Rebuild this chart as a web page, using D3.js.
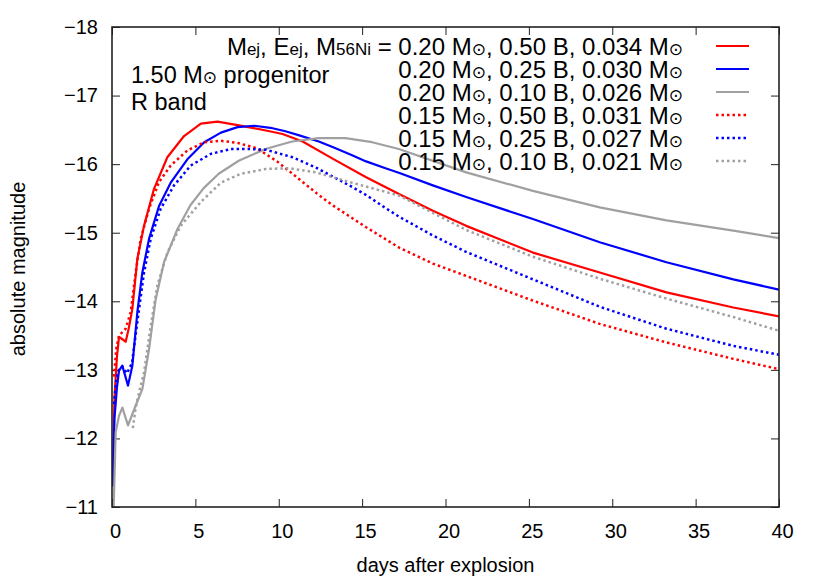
<!DOCTYPE html>
<html>
<head>
<meta charset="utf-8">
<script src="https://cdn.jsdelivr.net/npm/d3@7"></script>
<style>
  body { margin: 0; background: #fff; }
  svg { display: block; }
  text { font-family: "Liberation Sans", Arial, Helvetica, sans-serif; fill: #000; }
</style>
</head>
<body>
<svg id="chart" width="830" height="581"></svg>
<script>
// ---------- data (day, absolute magnitude) ----------
const xTicks = [0, 5, 10, 15, 20, 25, 30, 35, 40];
const yTicks = [-18, -17, -16, -15, -14, -13, -12, -11];

const m020_e050 = [[0.05,-11.5],[0.15,-12.6],[0.3,-13.2],[0.42,-13.48],[0.6,-13.45],[0.82,-13.41],[1.0,-13.6],[1.22,-13.89],[1.52,-14.62],[1.92,-15.10],[2.52,-15.64],[3.32,-16.10],[4.32,-16.41],[5.33,-16.59],[6.33,-16.62],[7.53,-16.57],[9.23,-16.49],[10.23,-16.44],[11.43,-16.33],[13.23,-16.08],[15.24,-15.81],[17.24,-15.56],[19.24,-15.32],[21.24,-15.10],[25.24,-14.71],[29.25,-14.42],[33.25,-14.13],[37.26,-13.91],[40,-13.78]];
const m020_e025 = [[0.05,-11.3],[0.15,-12.3],[0.3,-12.75],[0.42,-12.99],[0.62,-13.06],[0.96,-12.77],[1.22,-13.06],[1.52,-13.84],[1.82,-14.42],[2.22,-14.91],[2.82,-15.39],[3.52,-15.73],[4.52,-16.07],[5.53,-16.32],[6.53,-16.46],[7.53,-16.54],[8.53,-16.56],[9.5,-16.53],[10.4,-16.48],[11.23,-16.42],[12.4,-16.33],[13.23,-16.25],[14.4,-16.13],[15.24,-16.04],[16.4,-15.94],[17.24,-15.87],[19.24,-15.69],[21.24,-15.52],[25.24,-15.20],[29.25,-14.86],[33.25,-14.57],[37.26,-14.32],[40,-14.17]];
const m020_e010 = [[0.1,-11.0],[0.22,-12.09],[0.42,-12.33],[0.62,-12.45],[0.96,-12.19],[1.42,-12.48],[1.82,-12.72],[2.22,-13.30],[2.62,-14.03],[3.12,-14.57],[3.92,-15.05],[4.7,-15.4],[5.5,-15.65],[6.4,-15.86],[7.6,-16.05],[9.2,-16.22],[10.8,-16.33],[12.4,-16.38],[14.0,-16.38],[15.6,-16.32],[17.2,-16.22],[21.24,-15.88],[25.24,-15.61],[29.25,-15.37],[33.25,-15.18],[37.26,-15.03],[40,-14.92]];
const m015_e050 = [[0.12,-12.9],[0.25,-13.3],[0.42,-13.5],[0.82,-13.60],[1.12,-13.84],[1.42,-14.42],[1.72,-14.91],[2.22,-15.35],[2.82,-15.74],[3.52,-15.98],[4.52,-16.20],[5.53,-16.32],[6.53,-16.34],[7.53,-16.31],[8.7,-16.23],[9.9,-16.04],[11.23,-15.78],[12.3,-15.57],[13.23,-15.40],[15.24,-15.08],[17.24,-14.78],[19.24,-14.55],[21.24,-14.37],[25.24,-14.01],[29.25,-13.67],[33.25,-13.40],[37.26,-13.16],[40,-13.01]];
const m015_e025 = [[0.12,-12.5],[0.25,-12.85],[0.42,-13.0],[0.62,-13.05],[0.9,-12.95],[1.2,-13.1],[1.52,-13.7],[1.92,-14.42],[2.32,-14.91],[2.92,-15.35],[3.72,-15.69],[4.72,-15.98],[5.93,-16.15],[7.13,-16.22],[8.33,-16.22],[9.23,-16.21],[10.83,-16.10],[12.23,-15.95],[13.23,-15.82],[14.23,-15.69],[15.24,-15.55],[16.4,-15.36],[17.24,-15.23],[19.24,-14.96],[21.24,-14.72],[25.24,-14.32],[29.25,-13.92],[33.25,-13.60],[37.26,-13.35],[40,-13.22]];
const m015_e010 = [[1.25,-12.15],[1.42,-12.45],[1.7,-12.75],[1.92,-12.96],[2.32,-13.64],[2.72,-14.23],[3.32,-14.71],[4.12,-15.10],[5.33,-15.45],[6.53,-15.73],[7.73,-15.86],[9.23,-15.93],[10.63,-15.94],[12.23,-15.88],[14.23,-15.74],[17.24,-15.54],[21.24,-15.04],[25.24,-14.65],[29.25,-14.33],[33.25,-14.04],[37.26,-13.77],[40,-13.57]];

const seriesLabels = [
  ["0.20", "0.50", "0.034"],
  ["0.20", "0.25", "0.030"],
  ["0.20", "0.10", "0.026"],
  ["0.15", "0.50", "0.031"],
  ["0.15", "0.25", "0.027"],
  ["0.15", "0.10", "0.021"]
];
const seriesData = [m020_e050, m020_e025, m020_e010, m015_e050, m015_e025, m015_e010];
const seriesColors = ["#ff0000", "#0000ff", "#a0a0a0", "#ff0000", "#0000ff", "#a0a0a0"];
const seriesDotted = [false, false, false, true, true, true];

// ---------- layout ----------
const W = 830, H = 581;
const margin = { left: 112, right: 51, top: 27, bottom: 74 };
const svg = d3.select("#chart");

const x = d3.scaleLinear().domain([0, 40]).range([margin.left, W - margin.right]);
const y = d3.scaleLinear().domain([-18, -11]).range([margin.top, H - margin.bottom]);

const tickLen = 8;
const axisColor = "#222";

// bottom axis
const gx = svg.append("g").attr("transform", `translate(0,${y(-11)})`)
  .call(d3.axisBottom(x).tickValues(xTicks).tickSize(-tickLen).tickPadding(17).tickFormat(d3.format("d")));
// top ticks
const gxt = svg.append("g").attr("transform", `translate(0,${y(-18)})`)
  .call(d3.axisTop(x).tickValues(xTicks).tickSize(-tickLen).tickFormat(""));
// left axis
const gy = svg.append("g").attr("transform", `translate(${x(0)},0)`)
  .call(d3.axisLeft(y).tickValues(yTicks).tickSize(-tickLen).tickPadding(14).tickFormat(d3.format("d")));
// right ticks
const gyr = svg.append("g").attr("transform", `translate(${x(40)},0)`)
  .call(d3.axisRight(y).tickValues(yTicks).tickSize(-tickLen).tickFormat(""));

[gx, gxt, gy, gyr].forEach(g => {
  g.select(".domain").remove();
  g.selectAll(".tick line").attr("stroke", axisColor).attr("stroke-width", 1);
  g.selectAll(".tick text").attr("font-size", 20).attr("font-family", "Liberation Sans, Arial, sans-serif").attr("fill", "#000");
});
gx.selectAll(".tick text").attr("dy", "0.71em").attr("dx", 3);

// curves
const line = d3.line().x(d => x(d[0])).y(d => y(d[1])).curve(d3.curveLinear);
svg.append("clipPath").attr("id", "clip").append("rect")
  .attr("x", x(0)).attr("y", y(-18)).attr("width", x(40) - x(0)).attr("height", y(-11) - y(-18));

const curves = svg.append("g").attr("clip-path", "url(#clip)");
seriesData.forEach((data, i) => {
  curves.append("path")
    .datum(data)
    .attr("d", line)
    .attr("fill", "none")
    .attr("stroke", seriesColors[i])
    .attr("stroke-width", seriesDotted[i] ? 2.5 : 2.2)
    .attr("stroke-linejoin", "round")
    .attr("stroke-dasharray", seriesDotted[i] ? "2.5,3" : null);
});

// border frame
svg.append("rect")
  .attr("x", x(0)).attr("y", y(-18))
  .attr("width", x(40) - x(0)).attr("height", y(-11) - y(-18))
  .attr("fill", "none").attr("stroke", axisColor).attr("stroke-width", 1.6);

// axis titles
svg.append("text").attr("x", (x(0) + x(40)) / 2).attr("y", 572)
  .attr("text-anchor", "middle").attr("font-size", 20).text("days after explosion");
svg.append("text").attr("transform", `translate(25,${(y(-18) + y(-11)) / 2 + 2}) rotate(-90)`)
  .attr("text-anchor", "middle").attr("font-size", 20).text("absolute magnitude");

// annotation
const sun = "\u2299";
const ann1 = svg.append("text").attr("x", 131).attr("y", 83).attr("font-size", 23.5);
ann1.append("tspan").text("1.50 M");
ann1.append("tspan").attr("font-size", 17).attr("font-family", "DejaVu Sans").text(sun);
ann1.append("tspan").text(" progenitor");
svg.append("text").attr("x", 131).attr("y", 110).attr("font-size", 23.5).text("R band");

// legend
const legRight = 683, legX0 = 716, legX1 = 749, legY0 = 46, legDy = 23;
seriesLabels.forEach((lab, i) => {
  const yy = legY0 + i * legDy;
  const t = svg.append("text").attr("x", legRight).attr("y", yy + 8.5)
    .attr("text-anchor", "end").attr("font-size", 24);
  if (i === 0) {
    t.append("tspan").text("M");
    t.append("tspan").attr("font-size", 17).text("ej");
    t.append("tspan").text(", E");
    t.append("tspan").attr("font-size", 17).text("ej");
    t.append("tspan").text(", M");
    t.append("tspan").attr("font-size", 17).text("56Ni");
    t.append("tspan").text(" = ");
  }
  t.append("tspan").text(lab[0] + " M");
  t.append("tspan").attr("font-size", 17).attr("font-family", "DejaVu Sans").text(sun);
  t.append("tspan").text(", " + lab[1] + " B, " + lab[2] + " M");
  t.append("tspan").attr("font-size", 17).attr("font-family", "DejaVu Sans").text(sun);

  svg.append("line").attr("x1", legX0).attr("x2", legX1).attr("y1", yy).attr("y2", yy)
    .attr("stroke", seriesColors[i])
    .attr("stroke-width", seriesDotted[i] ? 2.5 : 2.2)
    .attr("stroke-dasharray", seriesDotted[i] ? "2.5,3" : null);
});
</script>
</body>
</html>
